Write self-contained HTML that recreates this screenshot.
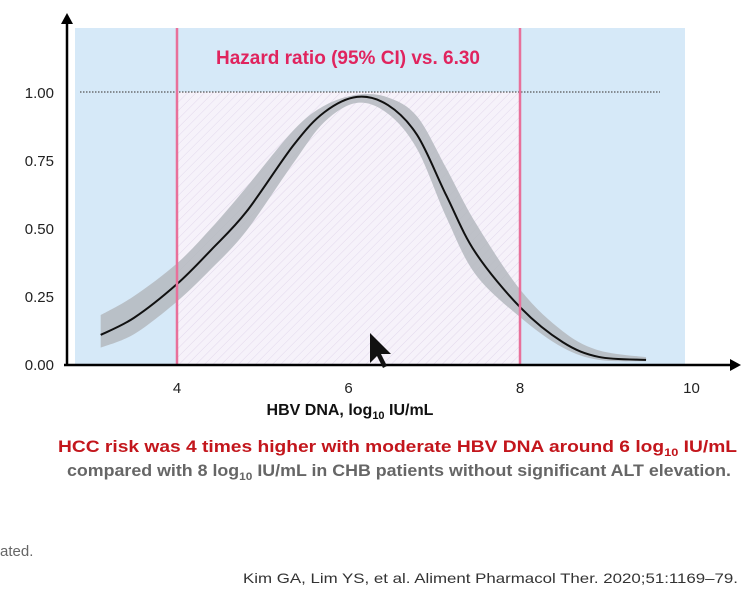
<!DOCTYPE html>
<html><head><meta charset="utf-8"><style>
html,body{margin:0;padding:0;background:#fff;width:743px;height:589px;overflow:hidden}
svg{display:block;font-family:"Liberation Sans",Arial,sans-serif}
</style></head><body>
<svg id="chart" width="743" height="589" viewBox="0 0 743 589">
<defs>
<pattern id="hatch" width="6" height="6" patternUnits="userSpaceOnUse" patternTransform="rotate(45)">
<rect width="6" height="6" fill="#f6f2fa"/>
<line x1="0" y1="0" x2="0" y2="6" stroke="#e2d8ec" stroke-width="1"/>
</pattern>
</defs>
<rect x="75" y="28" width="610" height="337" fill="#d6e9f8"/>
<g id="marks"></g>
<text x="348" y="64" text-anchor="middle" font-size="19" font-weight="bold" fill="#e0245e">Hazard ratio (95% CI) vs. 6.30</text>
<line x1="67" y1="366" x2="67" y2="22" stroke="#000" stroke-width="2.5"/>
<polygon points="61,24 73,24 67,13" fill="#000"/>
<line x1="64" y1="365" x2="732" y2="365" stroke="#000" stroke-width="2.5"/>
<polygon points="730,359 730,371 741,365" fill="#000"/>
<g id="ticks"></g>
<text x="350" y="415" text-anchor="middle" font-size="16" font-weight="bold" fill="#111">HBV DNA, log<tspan font-size="11" dy="4">10</tspan><tspan dy="-4"> IU/mL</tspan></text>
<polygon points="370,333 370,363 377,356 383,368 387,366 381,354 391,354" fill="#111"/>
<text x="58" y="452" font-size="16.5" font-weight="bold" fill="#c3161c" textLength="679" lengthAdjust="spacingAndGlyphs">HCC risk was 4 times higher with moderate HBV DNA around 6 log<tspan font-size="11" dy="4">10</tspan><tspan dy="-4"> IU/mL</tspan></text>
<text x="67" y="476" font-size="16.5" font-weight="bold" fill="#666" textLength="664" lengthAdjust="spacingAndGlyphs">compared with 8 log<tspan font-size="11" dy="4">10</tspan><tspan dy="-4"> IU/mL in CHB patients without significant ALT elevation.</tspan></text>
<text x="0" y="556" font-size="15" fill="#666">ated.</text>
<text x="243" y="583" font-size="14" fill="#333" textLength="495" lengthAdjust="spacingAndGlyphs">Kim GA, Lim YS, et al. Aliment Pharmacol Ther. 2020;51:1169–79.</text>
</svg>
<script>
const xValues=[3.11,3.5,4.0,4.4,4.81,5.36,5.72,6.10,6.46,6.80,7.14,7.48,8.01,8.5,8.92,9.47];
const hrValues=[0.107,0.17,0.294,0.42,0.56,0.805,0.926,0.982,0.952,0.842,0.62,0.41,0.206,0.08,0.026,0.015];
const upperCI=[0.18,0.25,0.37,0.50,0.65,0.86,0.95,0.99,0.98,0.91,0.72,0.52,0.27,0.12,0.05,0.025];
const lowerCI=[0.06,0.11,0.23,0.35,0.49,0.74,0.89,0.96,0.92,0.79,0.54,0.33,0.17,0.06,0.015,0.01];
const xTicks=[4,6,8,10];
const yTicks=[0,0.25,0.5,0.75,1.0];
const yTickLabels=["0.00","0.25","0.50","0.75","1.00"];
const refLines=[4,8];
const refHR=1.0;
const NS="http://www.w3.org/2000/svg";
const X=v=>177+(v-4)*85.75;
const Y=v=>364-v*272;
const marks=document.getElementById('marks'),ticks=document.getElementById('ticks');
function mk(tag,attrs,parent){const e=document.createElementNS(NS,tag);for(const k in attrs)e.setAttribute(k,attrs[k]);parent.appendChild(e);return e;}
function smooth(pts,start){let d=start?'M'+pts[0][0]+','+pts[0][1]:' L'+pts[0][0]+','+pts[0][1];
for(let i=0;i<pts.length-1;i++){const p0=pts[i-1]||pts[i],p1=pts[i],p2=pts[i+1],p3=pts[i+2]||p2;
d+=` C${p1[0]+(p2[0]-p0[0])/6},${p1[1]+(p2[1]-p0[1])/6} ${p2[0]-(p3[0]-p1[0])/6},${p2[1]-(p3[1]-p1[1])/6} ${p2[0]},${p2[1]}`;}return d;}
let e=mk('rect',{x:X(refLines[0]),y:Y(refHR),width:X(refLines[1])-X(refLines[0]),height:Y(0)-Y(refHR),fill:'url(#hatch)'},marks);


e=mk('line',{x1:80,x2:660,y1:Y(refHR),y2:Y(refHR),stroke:'#555','stroke-width':1.3,'stroke-dasharray':'1.5,1.5'},marks);


const up=xValues.map((v,i)=>[X(v),Y(upperCI[i])]);
const lo=xValues.map((v,i)=>[X(v),Y(lowerCI[i])]).reverse();
e=mk('path',{d:smooth(up,true)+smooth(lo,false)+'Z',fill:'#b4b8be',opacity:0.85},marks);


const pts=xValues.map((v,i)=>[X(v),Y(hrValues[i])]);
e=mk('path',{d:smooth(pts,true),fill:'none',stroke:'#111','stroke-width':2},marks);


refLines.forEach(v=>{const l=mk('line',{x1:X(v),x2:X(v),y1:28,y2:365,stroke:'#e8709a','stroke-width':2.5},marks);

});
xTicks.forEach(v=>{const t=mk('text',{x:X(v),y:393,'text-anchor':'middle','font-size':15,fill:'#222'},ticks);t.textContent=v;

});
yTicks.forEach((v,i)=>{const t=mk('text',{x:54,y:Y(v)+6,'text-anchor':'end','font-size':15,fill:'#222'},ticks);t.textContent=yTickLabels[i];

});
</script>
</body></html>
